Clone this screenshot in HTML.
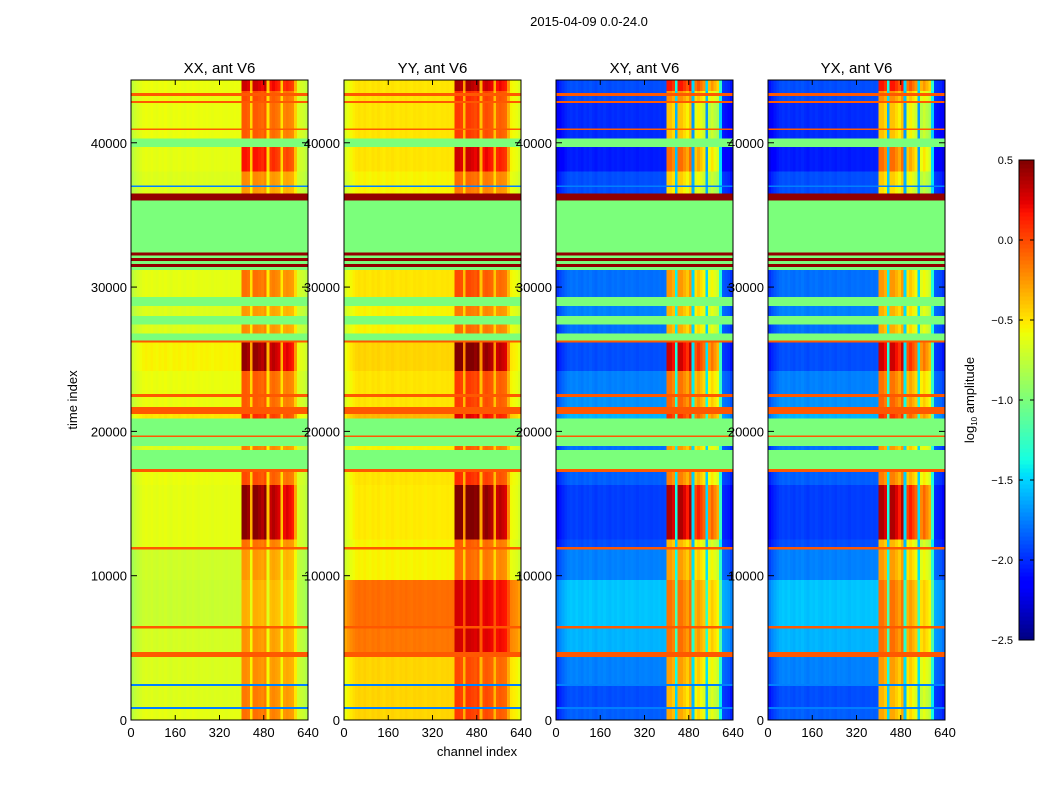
<!DOCTYPE html>
<html><head><meta charset="utf-8">
<style>
body{margin:0;background:#fff;}
svg{display:block;font-family:"Liberation Sans","DejaVu Sans",sans-serif;}
</style></head>
<body>
<svg id="fig" width="1050" height="800" viewBox="0 0 1050 800">
<rect width="1050" height="800" fill="#fff"/>
<text x="589" y="26" font-size="13" text-anchor="middle">2015-04-09 0.0-24.0</text>
<text x="477" y="756" font-size="13" text-anchor="middle">channel index</text>
<text transform="translate(77,400) rotate(-90)" font-size="13" text-anchor="middle">time index</text>
<g id="panels"></g>
<g id="cbar"></g>
</svg>
<script>
// ---- data ----
const panelTitles = ["XX, ant V6","YY, ant V6","XY, ant V6","YX, ant V6"];
const xTicks = [0,160,320,480,640];
const yTicks = [0,10000,20000,30000,40000];
const cbTicks = [-2.5,-2.0,-1.5,-1.0,-0.5,0.0,0.5];
// time bands (type: 0 data, 1 flagged, 2 rfi, 3 dark, 4 blue line)
const bandStart = [43600,43450,43250,42900,42750,41000, 40900,40300,39700,38000,37050,36950, 36500,36000,32400,32200,32000,31800, 31600,31400,31200,29300,28700,28000, 27400,26800,26300,26150,24200,22600, 22400,21700,21200,20900,19700,19600, 19000,18700,17400,17200,16300,12500, 12000,11800,9700,6500,6350,4700, 4350,2500,2350,900,750,0];
const bandEnd   = [44350,43600,43450,43250,42900,42750, 41000,40900,40300,39700,38000,37050, 36950,36500,36000,32400,32200,32000, 31800,31600,31400,31200,29300,28700, 28000,27400,26800,26300,26150,24200, 22600,22400,21700,21200,20900,19700, 19600,19000,18700,17400,17200,16300, 12500,12000,11800,9700,6500,6350, 4700,4350,2500,2350,900,750];
const bandType  = [0,0,2,0,2,0, 2,0,1,0,0,4, 0,3,1,3,1,3, 1,3,1,0,1,0, 1,0,1,2,0,0, 2,0,2,0,1,2, 1,0,1,2,0,0, 0,2,0,0,2,0, 2,0,4,0,4,0];
const bandHot   = [0.9,0.6,0,0.6,0,0.55, 0,0.55,0,0.8,0.45,0, 0.4,0,0,0,0,0, 0,0,0,0.5,0,0.4, 0,0.45,0,0,1.0,0.55, 0,0.55,0,0.6,0,0, 0,0.5,0,0,0.6,1.1, 0.5,0,0.45,0.4,0,0.45, 0,0.45,0,0.5,0,0.5];
const xxBase    = [-0.6,-0.6,0,-0.6,0,-0.6, 0,-0.6,0,-0.62,-0.65,0, -0.65,0,0,0,0,0, 0,0,0,-0.62,0,-0.65, 0,-0.65,0,0,-0.55,-0.6, 0,-0.6,0,-0.5,0,0, 0,-0.65,0,0,-0.6,-0.62, -0.62,0,-0.7,-0.72,0,-0.68, 0,-0.66,0,-0.65,0,-0.62];
const yyBase    = [-0.5,-0.5,0,-0.5,0,-0.5, 0,-0.5,0,-0.5,-0.55,0, -0.55,0,0,0,0,0, 0,0,0,-0.5,0,-0.55, 0,-0.55,0,0,-0.45,-0.5, 0,-0.5,0,-0.35,0,0, 0,-0.55,0,0,-0.5,-0.52, -0.55,0,-0.55,-0.12,0,-0.15, 0,-0.45,0,-0.45,0,-0.45];
const xyBase    = [-1.9,-1.9,0,-1.9,0,-2.0, 0,-2.0,0,-2.05,-1.9,0, -1.9,0,0,0,0,0, 0,0,0,-1.8,0,-1.75, 0,-1.8,0,0,-1.9,-1.75, 0,-1.7,0,-1.6,0,0, 0,-1.8,0,0,-1.85,-1.95, -1.9,0,-1.75,-1.55,0,-1.6, 0,-1.75,0,-1.9,0,-1.85];
const yxBase    = [-1.9,-1.9,0,-1.9,0,-2.0, 0,-2.0,0,-2.05,-1.9,0, -1.9,0,0,0,0,0, 0,0,0,-1.8,0,-1.75, 0,-1.8,0,0,-1.9,-1.75, 0,-1.7,0,-1.6,0,0, 0,-1.8,0,0,-1.85,-1.95, -1.9,0,-1.75,-1.55,0,-1.6, 0,-1.75,0,-1.9,0,-1.85];
// channel profile, 10-channel bins (64 bins)
const chanProfile = [-0.3,-0.2,-0.12,-0.05,0,0.03,0,0.04,0,-0.02,0.03,0,0.04,0,-0.03,0.02,0,0.03,0,-0.02,0.02,0,0.03,0,-0.02,0.02,0,0.02,0,-0.02,0.01,0,0.02,0,-0.01,0.01,0,0.02,0,0.02,
  1.0,1.0,0.95,0.25,1.0,1.0,0.95,0.9,1.0,0.2,0.85,0.9,0.85,0.8,0.2,0.75,0.8,0.75,0.7,0.3,-0.1,-0.15,-0.2,-0.3];
const polBase = [xxBase,yyBase,xyBase,yxBase];
const typeValue = [null,-1.0,-0.05,0.45,-1.75];

// ---- helpers ----
const NS="http://www.w3.org/2000/svg";
function mk(tag,attrs,parent){const e=document.createElementNS(NS,tag);for(const k in attrs)e.setAttribute(k,attrs[k]);parent.appendChild(e);return e;}
function jet(t){t=Math.max(0,Math.min(1,t));
  const r=t<0.35?0:t<0.66?(t-0.35)/0.31:t<0.89?1:1-(t-0.89)/0.11*0.5;
  const g=t<0.125?0:t<0.375?(t-0.125)/0.25:t<0.64?1:t<0.91?1-(t-0.64)/0.27:0;
  const b=t<0.11?0.5+t/0.11*0.5:t<0.34?1:t<0.65?1-(t-0.34)/0.31:0;
  return `rgb(${Math.round(r*255)},${Math.round(g*255)},${Math.round(b*255)})`;}
const vmin=-2.5,vmax=0.5;
function color(v){return jet((v-vmin)/(vmax-vmin));}
const panelX=[131,344,556,768], PW=177, PT=80, PB=720, TMAX=44350, CMAX=640;
function xs(p,c){return panelX[p]+c/CMAX*PW;}
function ys(t){return PB-(t/TMAX)*(PB-PT);}

const root=document.getElementById('panels');
for(let p=0;p<4;p++){
  const g=mk('g',{},root);
  
  
  const hm=mk('g',{'shape-rendering':'crispEdges'},g);
  
  
  const cross=p>=2;
  for(let i=0;i<bandStart.length;i++){
    const y0=ys(bandEnd[i]), y1=ys(bandStart[i]);
    if(bandType[i]!==0){
      const r=mk('rect',{x:xs(p,0),y:y0,width:PW,height:Math.max(1.5,y1-y0),fill:color(typeValue[bandType[i]])},hm);
      
      
      continue;
    }
    const base=polBase[p][i], hot=bandHot[i];
    const amp=cross?(0.9+hot*1.3):hot;
    for(let b=0;b<chanProfile.length;b++){
      const prof=chanProfile[b];
      let v;
      if(b>=40&&b<60) v=base+prof*amp;
      else v=base+prof*(cross?0.6:0.5);
      const r=mk('rect',{x:xs(p,b*10),y:y0,width:PW/64+0.3,height:Math.max(1,y1-y0),fill:color(v)},hm);
      
      
    }
  }
  const fr=mk('rect',{x:panelX[p],y:PT,width:PW,height:PB-PT,fill:'none',stroke:'#000','stroke-width':1},g);
  
  
  const tt=mk('text',{x:panelX[p]+PW/2,y:73,'font-size':15,'text-anchor':'middle'},g);
  tt.textContent=panelTitles[p];
  
  
  for(const c of xTicks){
    const x=xs(p,c);
    mk('line',{x1:x,y1:PB,x2:x,y2:PB-5,stroke:'#000'},g);
    mk('line',{x1:x,y1:PT,x2:x,y2:PT+5,stroke:'#000'},g);
    const tl=mk('text',{x:x,y:737,'font-size':13,'text-anchor':'middle'},g);
    tl.textContent=c;
    
    
  }
  for(const t of yTicks){
    const y=ys(t);
    mk('line',{x1:panelX[p],y1:y,x2:panelX[p]+6,y2:y,stroke:'#000'},g);
    mk('line',{x1:panelX[p]+PW,y1:y,x2:panelX[p]+PW-6,y2:y,stroke:'#000'},g);
    const tl=mk('text',{x:panelX[p]-4,y:y+5,'font-size':13,'text-anchor':'end'},g);
    tl.textContent=t;
    
    
  }
}
// colorbar
const cb=document.getElementById('cbar');


const CX=1019,CW=15,CT=160,CB=640;
for(let i=0;i<120;i++){
  const v=vmin+(i+0.5)/120*(vmax-vmin);
  const y=CB-(i+1)/120*(CB-CT);
  mk('rect',{x:CX,y:y,width:CW,height:(CB-CT)/120+0.5,fill:color(v),'shape-rendering':'crispEdges'},cb);
}
mk('rect',{x:CX,y:CT,width:CW,height:CB-CT,fill:'none',stroke:'#000'},cb);
for(const v of cbTicks){
  const y=CB-(v-vmin)/(vmax-vmin)*(CB-CT);
  mk('line',{x1:CX,y1:y,x2:CX+4,y2:y,stroke:'#000'},cb);
  mk('line',{x1:CX+CW,y1:y,x2:CX+CW-4,y2:y,stroke:'#000'},cb);
  const tl=mk('text',{x:1013,y:y+4,'font-size':11,'text-anchor':'end'},cb);
  tl.textContent=v.toFixed(1).replace('-','\u2212');
  
  
}
const cl=mk('text',{transform:'translate(974,400) rotate(-90)','font-size':13,'text-anchor':'middle'},cb);
cl.innerHTML='log<tspan font-size="8" dy="3">10</tspan><tspan dy="-3"> amplitude</tspan>';


</script>
</body></html>
